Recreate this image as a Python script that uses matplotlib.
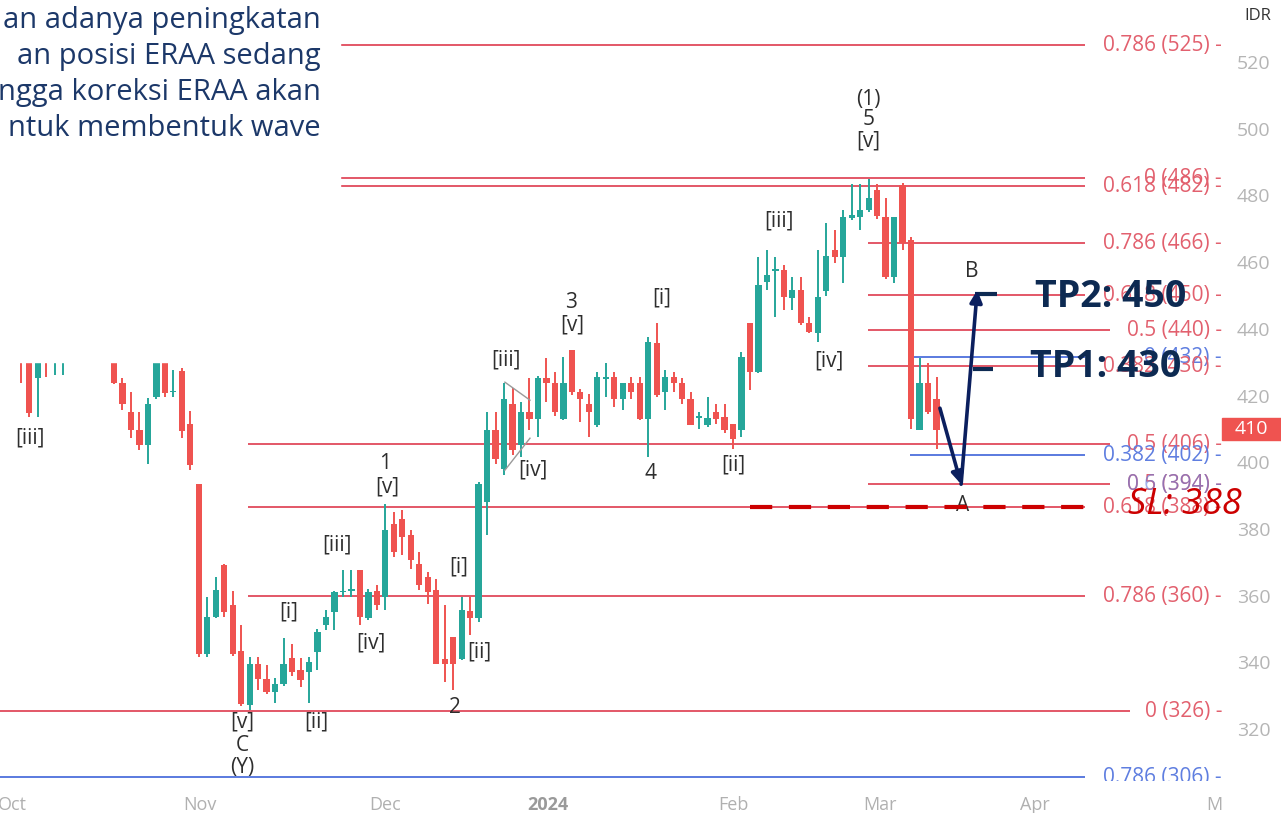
import matplotlib
matplotlib.use("Agg")
import matplotlib.pyplot as plt
from matplotlib.patches import Rectangle
from matplotlib.transforms import blended_transform_factory
import numpy as np

plt.rcParams['font.family'] = ['Open Sans', 'DejaVu Sans']
plt.rcParams['lines.scale_dashes'] = False

# ERAA daily candles, one row per trading day (bar index 0..108)
opens = [438, 434, 425.1, 440, 432, 433, 436, 440, 444, 439,
         436, 437, 423.6, 415.1, 409.6, 405.1, 419.6, 433, 421.0, 427.4,
         411.6, 393.4, 342.4, 353.6, 369.3, 357.1, 343.4, 327.1, 339.6, 335.1,
         331.1, 333.6, 341.4, 337.6, 337.1, 343.1, 351.1, 355.1, 361.0, 361.5,
         367.6, 353.4, 361.4, 359.6, 381.6, 383.1, 378.1, 369.6, 365.6, 361.6,
         341.1, 347.6, 341.1, 355.3, 353.4, 388.1, 409.6, 398.1, 417.6, 405.1,
         415.1, 413.1, 425.1, 423.6, 413.1, 433.6, 421.1, 417.6, 411.1, 425.0,
         425.6, 419.1, 423.6, 423.6, 413.1, 435.6, 421.1, 425.6, 423.6, 419.1,
         413.4, 411.1, 415.1, 413.6, 411.6, 409.6, 441.8, 427.1, 454.0, 457.4,
         457.6, 449.1, 451.6, 441.8, 438.6, 451.4, 463.6, 461.4, 473.2, 473.6,
         475.6, 481.6, 473.6, 455.4, 483.1, 466.6, 409.6, 423.6, 419.1]
highs = [441, 437, 440, 442, 438, 439, 442, 446, 448, 443,
         441, 439, 425.1, 421.1, 415.1, 419.3, 435, 434, 427.6, 428.2,
         415.3, 393.4, 359.6, 365.6, 369.5, 361.4, 351.1, 341.6, 341.6, 339.1,
         335.3, 347.4, 345.6, 341.4, 341.6, 350.0, 355.6, 361.5, 367.6, 367.6,
         367.6, 362.0, 363.1, 387.6, 385.1, 385.6, 379.6, 373.1, 367.1, 365.1,
         357.1, 347.6, 359.6, 359.6, 394.0, 415.1, 415.1, 423.6, 422.1, 418.1,
         425.1, 425.8, 431.1, 427.1, 431.6, 433.6, 422.0, 420.6, 427.1, 429.6,
         427.1, 423.6, 425.6, 425.6, 437.6, 441.8, 427.6, 427.0, 425.1, 421.1,
         415.1, 419.5, 417.6, 417.6, 411.6, 433.1, 441.8, 461.6, 463.6, 461.6,
         459.1, 455.6, 455.6, 443.6, 463.6, 471.6, 469.6, 475.6, 483.4, 483.4,
         484.8, 483.4, 479.1, 473.6, 483.6, 467.6, 431.1, 429.6, 425.6]
lows = [423.7, 413.6, 413.6, 425.6, 426.1, 426.1, 432, 436, 438, 434,
        432, 423.3, 415.6, 407.4, 403.8, 399.6, 419.0, 419.6, 419.6, 407.4,
        397.8, 341.6, 341.6, 353.4, 353.6, 341.8, 327.0, 325.8, 331.6, 330.4,
        327.8, 333.0, 336.0, 332.6, 327.7, 337.6, 349.6, 349.6, 359.6, 359.6,
        351.1, 352.8, 355.8, 355.6, 371.6, 372.1, 368.1, 361.6, 357.4, 339.6,
        334.1, 331.6, 340.6, 348.1, 352.0, 378.1, 399.6, 396.1, 402.1, 401.6,
        409.6, 407.6, 418.1, 413.8, 412.6, 420.1, 412.1, 407.6, 410.6, 419.6,
        416.6, 415.6, 419.1, 412.6, 401.6, 419.6, 415.6, 421.0, 417.6, 411.1,
        410.1, 410.6, 411.6, 408.9, 404.1, 407.6, 421.6, 426.6, 451.6, 443.6,
        445.6, 445.6, 441.1, 438.6, 436.1, 449.8, 459.6, 453.6, 472.6, 469.6,
        475.0, 473.0, 455.0, 453.6, 463.6, 410.1, 409.6, 414.6, 404.1]
closes = [433, 414.8, 436, 434, 435, 436, 440, 444, 439, 436,
          438, 423.6, 417.4, 409.6, 405.1, 417.6, 433, 420.8, 421.3, 409.4,
          399.1, 342.4, 353.6, 361.6, 355.1, 342.6, 327.4, 339.6, 335.1, 331.1,
          333.6, 339.6, 337.1, 334.6, 340.1, 349.1, 353.6, 361.1, 361.5, 361.8,
          353.6, 361.1, 357.1, 379.6, 373.1, 377.6, 370.6, 363.1, 361.1, 339.6,
          339.6, 339.6, 355.6, 353.4, 393.6, 409.6, 401.1, 419.1, 403.6, 415.1,
          413.1, 425.1, 423.6, 415.1, 423.6, 421.1, 419.1, 415.1, 425.6, 425.3,
          419.1, 423.6, 421.1, 413.1, 436.1, 420.1, 425.6, 423.6, 419.1, 411.1,
          413.8, 413.4, 412.9, 409.6, 407.1, 431.6, 427.1, 453.1, 456.2, 457.9,
          449.6, 451.6, 441.6, 439.1, 449.6, 461.8, 461.4, 473.6, 474.0, 475.6,
          479.1, 473.8, 455.4, 473.6, 465.6, 413.1, 423.6, 415.1, 409.6]

month_pos = [-1.0, 21.1, 43.0, 62.2, 84.0, 101.3, 119.6, 140.8]
month_labels = ['Oct', 'Nov', 'Dec', '2024', 'Feb', 'Mar', 'Apr', 'M']

# fibonacci levels: label, price, start bar, end bar, colour group
fib_labels = ['0.786 (525)', '0 (486)', '0.618 (482)', '0.786 (466)', '0.618 (450)',
              '0.5 (440)', '0 (432)', '0.382 (430)', '0.5 (406)', '0.382 (402)',
              '0.5 (394)', '0.618 (388)', '0.786 (360)', '0 (326)', '0.786 (306)']
fib_prices = [525.1, 485.2, 482.8, 465.7, 450.1, 439.6, 431.5, 428.8, 405.4, 402.1,
              393.4, 386.5, 359.8, 325.3, 305.5]
fib_start = [37.7, 37.7, 37.7, 99.9, 99.9, 99.9, 104.9, 99.9, 26.8, 104.9,
             99.9, 26.8, 26.8, -2.5, -2.5]
fib_end = [125.5, 125.5, 125.5, 125.5, 125.5, 128.5, 125.5, 125.5, 128.5, 125.5,
           128.5, 125.5, 125.5, 130.8, 125.5]
fib_group = ['r', 'r', 'r', 'r', 'r', 'r', 'b', 'r', 'r', 'b', 'r', 'r', 'r', 'r', 'b']

# elliott wave labels
wave_text = ['[iii]', '[v]', 'C', '(Y)', '[i]', '[ii]', '[iii]', '[iv]', '1', '[v]',
             '[i]', '[ii]', '2', '[iii]', '[iv]', '3', '[v]', '[i]', '4', '[ii]',
             '[iii]', '[iv]', '(1)', '5', '[v]', 'B', 'A']
wave_x = [1.1, 26.1, 26.1, 26.1, 31.6, 34.9, 37.3, 41.3, 43.0, 43.2,
          51.6, 54.1, 51.2, 57.2, 60.4, 64.9, 65.0, 75.6, 74.3, 84.0,
          89.4, 95.3, 100.0, 100.0, 100.0, 112.2, 111.1]
wave_y = [407.2, 322.0, 315.1, 308.5, 355.0, 322.0, 375.1, 345.7, 399.7, 392.5,
          368.5, 343.0, 326.5, 430.6, 397.6, 448.0, 441.1, 449.2, 396.7, 399.1,
          472.3, 430.3, 508.9, 502.9, 496.3, 457.3, 387.1]

sl_price = 386.5
tp1_price, tp2_price = 427.8, 450.4
last_price = 410

note_lines = ['an adanya peningkatan', 'an posisi ERAA sedang',
              'ngga koreksi ERAA akan', 'ntuk membentuk wave']

RED_LINE = '#e04a5c'
RED_TXT = '#e2606e'
BLUE_LINE = '#4d6fdc'
BLUE_TXT = '#5f7ee0'
UP = '#26a69a'
DOWN = '#ef5350'
NAVY = '#0d2a52'
ARROW = '#0b1f5e'
WAVE = '#2e2e2e'

fig = plt.figure(figsize=(12.81, 8.13), dpi=100)
ax = fig.add_axes([0, 32 / 813, 1225 / 1281, 781 / 813])
ax.set_xlim(-2.44, 142.02)
ax.set_ylim(304.4, 538.6)
for s in ax.spines.values():
    s.set_visible(False)

# fib lines
for lab, p, x0, x1, g in zip(fib_labels, fib_prices, fib_start, fib_end, fib_group):
    ax.hlines(p, x0, x1, color=RED_LINE if g == 'r' else BLUE_LINE, lw=1.3, zorder=1)

# candles
o = np.array(opens); h = np.array(highs); l = np.array(lows); c = np.array(closes)
idx = np.arange(len(o))
cols = np.where(c >= o, UP, DOWN)
ax.vlines(idx, l, h, color=cols, lw=1.4, zorder=2)
body = np.maximum(np.abs(c - o), 0.5)
ax.bar(idx, body, bottom=np.minimum(o, c), width=0.74, color=cols, zorder=2)

# small triangle around [iii]-[iv]
ax.plot([57.1, 60.06], [424.0, 418.6], color='#9a9a9a', lw=1, zorder=3)
ax.plot([57.1, 60.06], [397.6, 407.2], color='#9a9a9a', lw=1, zorder=3)

# wave labels
for t, x, y in zip(wave_text, wave_x, wave_y):
    ax.text(x, y, t, ha='center', va='center', fontsize=15, color=WAVE, zorder=3)

# fib labels at right
tr = blended_transform_factory(ax.transAxes, ax.transData)
for lab, p, g in zip(fib_labels, fib_prices, fib_group):
    ax.text(0.9976, p, lab + ' -', transform=tr, ha='right', va='center',
            fontsize=15, color=RED_TXT if g == 'r' else BLUE_TXT, zorder=3, clip_on=True)
ax.text(0.9976, 393.4, '0.6 (394) -', transform=tr, ha='right', va='center',
        fontsize=15, color=BLUE_TXT, alpha=0.6, zorder=3)

# SL dashed line and text
ax.plot([86.0, 127.3], [sl_price, sl_price], color='#cc0000', lw=3.0,
        dashes=(16, 12), zorder=4)
ax.text(130.6, sl_price + 0.6, 'SL: 388', fontsize=26, style='italic',
        color='#cc0000', ha='left', va='center', zorder=6)

# TP markers
ax.hlines(tp2_price, 112.5, 115.1, color=NAVY, lw=3, zorder=5)
ax.hlines(tp1_price, 112.3, 114.7, color=NAVY, lw=3, zorder=5)
ax.text(119.6, 449.5, 'TP2: 450', fontsize=27, fontweight='bold', color=NAVY,
        ha='left', va='center', zorder=6)
ax.text(119.0, 428.5, 'TP1: 430', fontsize=27, fontweight='bold', color=NAVY,
        ha='left', va='center', zorder=6)

# scenario arrows
ax.annotate('', xy=(110.9, 393.4), xytext=(108.4, 416.2),
            arrowprops=dict(arrowstyle='-|>', color=ARROW, lw=2.6,
                            mutation_scale=18, shrinkA=0, shrinkB=0), zorder=5)
ax.annotate('', xy=(112.8, 451.6), xytext=(110.9, 393.4),
            arrowprops=dict(arrowstyle='-|>', color=ARROW, lw=2.6,
                            mutation_scale=18, shrinkA=0, shrinkB=0), zorder=5)

# axes ticks
ax.yaxis.tick_right()
ax.set_yticks(np.arange(320, 521, 20))
ax.tick_params(axis='y', length=0, pad=8.6, labelsize=14, labelcolor='#b5b5b5')
ax.set_xticks(month_pos)
ax.set_xticklabels(month_labels)
ax.tick_params(axis='x', length=0, pad=10.8, labelsize=13, labelcolor='#b0b0b0')
for tl in ax.get_xticklabels():
    if tl.get_text() == '2024':
        tl.set_fontweight('bold')
        tl.set_color('#9a9a9a')

# last price tag
ax.add_patch(Rectangle((1222 / 1225, last_price - 3.2), 59 / 1225, 6.4,
                       transform=tr, color='#ef5350', clip_on=False, zorder=6))
ax.text(1251 / 1225, last_price, str(last_price), transform=tr, ha='center',
        va='center', color='white', fontsize=14, zorder=7)

fig.text(1258 / 1281, 1 - 16 / 813, 'IDR', ha='center', va='center',
         fontsize=12, color='#333333')

# white note box overlapping the chart
fig.add_artist(Rectangle((0, 1 - 362 / 813), 340 / 1281, 362 / 813,
                         transform=fig.transFigure, color='white', zorder=10))
for i, line in enumerate(note_lines):
    fig.text(321 / 1281, 1 - (28 + 36 * i) / 813, line, ha='right', va='baseline',
             fontsize=21, color='#1c3869', zorder=11)

fig.savefig('out.png', dpi=100)
